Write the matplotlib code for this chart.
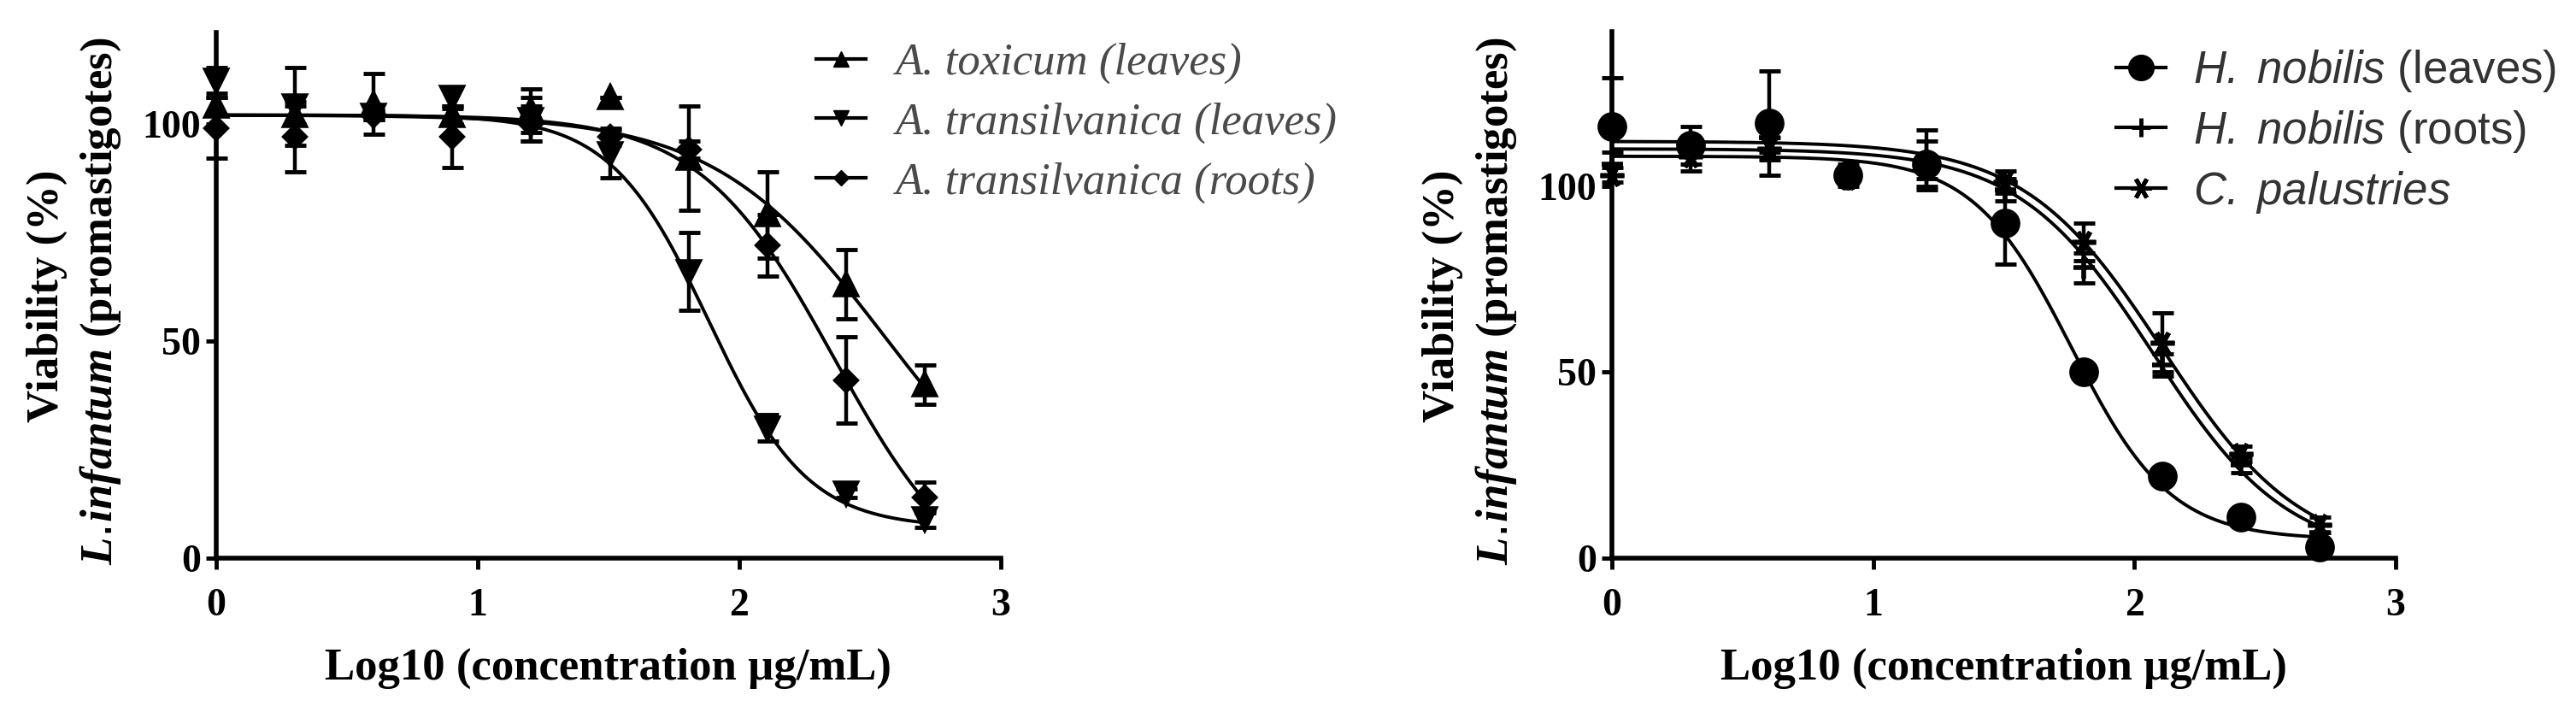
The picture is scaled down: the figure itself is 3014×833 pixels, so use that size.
import matplotlib
matplotlib.use("Agg")
import numpy as np
import matplotlib.pyplot as plt
from matplotlib.lines import Line2D

# Log10 de la concentración (1 a 512 µg/mL)
log_conc = [0.0, 0.301, 0.602, 0.903, 1.204, 1.505, 1.806, 2.107, 2.408, 2.709]

# Panel izquierdo: media y desviación de la viabilidad (%)
toxicum_hojas = [104, 102, 104.5, 102, 103, 106, 92, 79, 63, 40]
toxicum_hojas_sd = [2, 2, 7, 2, 5, 0, 12, 10, 8, 4.5]
transil_hojas = [110, 104, 102, 106, 101, 93, 66, 30, 15, 9]
transil_hojas_sd = [3, 9, 1, 2.5, 5, 5.5, 9, 3, 1, 2]
transil_raices = [99, 97, 102, 97, 100, 97, 94, 72, 41, 14]
transil_raices_sd = [7, 8, 1, 7, 4, 2, 2, 7, 10, 3.5]

# Panel derecho
nobilis_hojas = [116, 111, 117, 103, 106, 90, 50, 22, 11, 3]
nobilis_hojas_sd = [13, 5, 14, 2, 6, 11, 1.5, 1.5, 1, 1]
nobilis_raices = [106, 110, 113, 104, 107, 99, 78, 52, 25, 7]
nobilis_raices_sd = [3, 2, 4, 2, 8, 3, 4, 3, 2, 2]
palustries = [103, 108, 110, 102, 105, 101, 85, 58, 28, 9]
palustries_sd = [2, 4, 3, 2, 3, 3, 5, 8, 2, 2]

# Parámetros del ajuste sigmoide (top, bottom, logIC50, pendiente Hill)
ajuste_toxicum_hojas = [102, 0, 2.556, 1.33]
ajuste_transil_hojas = [102, 7, 1.884, 2.3]
ajuste_transil_raices = [102, -10, 2.363, 1.68]
ajuste_nobilis_hojas = [108, 5, 1.76, 2.3]
ajuste_nobilis_raices = [110, 0, 2.072, 1.69]
ajuste_palustries = [112, 0, 2.109, 1.64]

leyenda_izq = ["A. toxicum (leaves)", "A. transilvanica (leaves)", "A. transilvanica (roots)"]
leyenda_der = [r"$\mathcal{H.\ nobilis}$ (leaves)", r"$\mathcal{H.\ nobilis}$ (roots)",
               r"$\mathcal{C.\ palustries}$"]

plt.rcParams['mathtext.fontset'] = 'custom'
plt.rcParams['mathtext.it'] = 'Liberation Serif:italic:bold'
plt.rcParams['mathtext.cal'] = 'Liberation Sans:italic'

W, H = 3014, 833
fig = plt.figure(figsize=(W / 100, H / 100), dpi=100)
ax1 = fig.add_axes([253 / W, 180 / H, 918 / W, 615 / H])
ax2 = fig.add_axes([1886 / W, 180 / H, 917 / W, 616 / H])

SERIF = 'Liberation Serif'
TAM_TEXTO = 38


def curva_4pl(x, top, bottom, logic50, hill):
    return bottom + (top - bottom) / (1 + 10 ** ((x - logic50) * hill))


def dibujar_serie(ax, medias, sd, ajuste, marcador, tam):
    x_fit = np.linspace(log_conc[0], log_conc[-1], 300)
    ax.plot(x_fit, curva_4pl(x_fit, *ajuste), color='black', lw=2.8, clip_on=False, zorder=3)
    barras = ax.errorbar(log_conc, medias, yerr=sd, fmt='none', ecolor='black',
                         elinewidth=3.2, capsize=9, capthick=3.5, zorder=4)
    for art in barras.get_children():
        art.set_clip_on(False)
    ax.plot(log_conc, medias, linestyle='none', marker=marcador, ms=tam, color='black',
            mec='black', mew=4, clip_on=False, zorder=5)


def estilo_ejes(ax, ymax):
    ax.set_xlim(0, 3)
    ax.set_ylim(0, ymax)
    ax.spines['top'].set_visible(False)
    ax.spines['right'].set_visible(False)
    for lado in ['left', 'bottom']:
        ax.spines[lado].set_linewidth(4)
    ax.set_xticks([0, 1, 2, 3])
    ax.set_yticks([0, 50, 100])
    ax.tick_params(direction='out', length=9, width=3.5, labelsize=33)
    ax.tick_params(axis='x', pad=16)
    ax.tick_params(axis='y', pad=4)
    for lab in ax.get_xticklabels() + ax.get_yticklabels():
        lab.set_fontfamily(SERIF)
        lab.set_fontweight('bold')
    ax.set_xlabel("Log10 (concentration µg/mL)", fontsize=TAM_TEXTO, fontweight='bold',
                  family=SERIF, labelpad=20)


marcadores_izq = [('^', 17), ('v', 17), ('D', 12)]
marcadores_der = [('o', 21), ('+', 18), ((6, 2, 90), 20)]

dibujar_serie(ax1, toxicum_hojas, toxicum_hojas_sd, ajuste_toxicum_hojas, *marcadores_izq[0])
dibujar_serie(ax1, transil_hojas, transil_hojas_sd, ajuste_transil_hojas, *marcadores_izq[1])
dibujar_serie(ax1, transil_raices, transil_raices_sd, ajuste_transil_raices, *marcadores_izq[2])

dibujar_serie(ax2, nobilis_hojas, nobilis_hojas_sd, ajuste_nobilis_hojas, *marcadores_der[0])
dibujar_serie(ax2, nobilis_raices, nobilis_raices_sd, ajuste_nobilis_raices, *marcadores_der[1])
dibujar_serie(ax2, palustries, palustries_sd, ajuste_palustries, *marcadores_der[2])

estilo_ejes(ax1, 121)
estilo_ejes(ax2, 141.5)

# Etiquetas del eje y en dos líneas (la segunda con parte en cursiva)
for ax_x in [253, 1886]:
    fig.text((ax_x - 198) / W, 1 - 346 / H, "Viability (%)", rotation=90, fontsize=TAM_TEXTO,
             fontweight='bold', family=SERIF, ha='center', va='center')
    fig.text((ax_x - 135) / W, 1 - 352 / H, r"$\mathit{L{.}\!infantum}$ (promastigotes)",
             rotation=90, fontsize=TAM_TEXTO, fontweight='bold', family=SERIF,
             ha='center', va='center')

# Leyendas
h_izq = [Line2D([], [], color='black', lw=3, marker=m, ms=s * 0.8) for m, s in marcadores_izq]
leg1 = ax1.legend(h_izq, leyenda_izq, loc='upper left', bbox_to_anchor=(955 / W, 1 - 50 / H),
                  bbox_transform=fig.transFigure, frameon=False, borderpad=0, borderaxespad=0,
                  handlelength=1.1, handletextpad=0.66, labelspacing=0.41, numpoints=1,
                  prop={'family': SERIF, 'style': 'italic', 'size': TAM_TEXTO},
                  labelcolor='#4a4a4a')

h_der = [Line2D([], [], color='black', lw=3, marker=m, ms=s * 0.9, mew=3.5) for m, s in marcadores_der]
leg2 = ax2.legend(h_der, leyenda_der, loc='upper left', bbox_to_anchor=(2476 / W, 1 - 56 / H),
                  bbox_transform=fig.transFigure, frameon=False, borderpad=0, borderaxespad=0,
                  handlelength=1.1, handletextpad=0.6, labelspacing=0.32, numpoints=1,
                  prop={'family': 'Liberation Sans', 'size': TAM_TEXTO}, labelcolor='#333333')

fig.savefig("out.png", dpi=100)
